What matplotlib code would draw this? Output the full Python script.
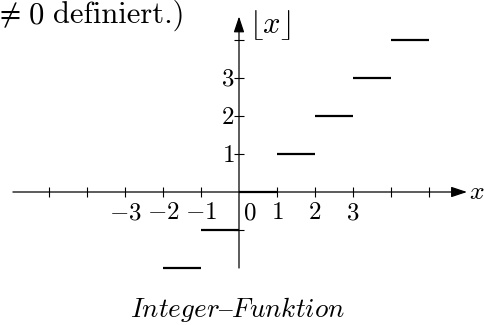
import numpy as np
import matplotlib.pyplot as plt

plt.rcParams['mathtext.fontset'] = 'cm'

# floor function: constant pieces on [n, n+1)
step_starts = [-2, -1, 0, 1, 2, 3, 4]
step_values = [int(np.floor(s)) for s in step_starts]

x_ticks = [-5, -4, -3, -2, -1, 1, 2, 3, 4, 5]
x_tick_labels = {-3: r'$-3$', -2: r'$-2$', -1: r'$-1$', 1: r'$1$', 2: r'$2$', 3: r'$3$'}
y_ticks = [-1, 1, 2, 3, 4]
y_tick_labels = {1: r'$1$', 2: r'$2$', 3: r'$3$'}

unit = 38.0  # pixels per unit
W, H = 484, 325
ox, oy = 239, 192

fig = plt.figure(figsize=(W / 100, H / 100), dpi=100)
ax = fig.add_axes([0, 0, 1, 1])
ax.set_xlim(-ox / unit, (W - ox) / unit)
ax.set_ylim(-(H - oy) / unit, oy / unit)
ax.axis('off')

# axes with arrow heads
arrow = dict(arrowstyle='-|>,head_length=0.6,head_width=0.2', lw=0.9, color='black',
             mutation_scale=16, shrinkA=0, shrinkB=0)
ax.annotate('', xy=(6.0, 0), xytext=(-5.95, 0), arrowprops=arrow)
ax.annotate('', xy=(0, 4.62), xytext=(0, -2), arrowprops=arrow)

# tick crosses
ax.plot(x_ticks, [0] * len(x_ticks), ls='none', marker='|', ms=7, mew=0.8, color='black')
ax.plot([0] * len(y_ticks), y_ticks, ls='none', marker='_', ms=7, mew=0.8, color='black')

fs = 18
for t, lab in x_tick_labels.items():
    ax.text(t, -0.72, lab, ha='center', va='baseline', fontsize=fs)
ax.text(0.29, -0.72, r'$0$', ha='center', va='baseline', fontsize=fs)
for t, lab in y_tick_labels.items():
    ax.text(-0.12, t - 0.21, lab, ha='right', va='baseline', fontsize=fs)

ax.text(6.04, 0, r'$x$', ha='left', va='center', fontsize=18.5)
ax.text(0.27, 4.38, r'$\lfloor x\rfloor$', ha='left', va='center', fontsize=22)

# the steps
for s, v in zip(step_starts, step_values):
    ax.plot([s, s + 1], [v, v], color='black', lw=1.6, solid_capstyle='butt')

# note at the top, partly running off the left edge
base = 1 - 23 / H
fig.text(21 / W, base, r'$\neq$', ha='right', va='baseline', fontsize=22)
fig.text(28 / W, base, r'$0$', ha='left', va='baseline', fontsize=22)
fig.text(184 / W, base, 'definiert.)', family=['cmr10', 'DejaVu Serif'],
         ha='right', va='baseline', fontsize=22)

fig.text(237 / W, 1 - 317 / H, r'$\mathit{Integer–Funktion}$',
         ha='center', va='baseline', fontsize=19.5)

fig.savefig('out.png', dpi=100)
